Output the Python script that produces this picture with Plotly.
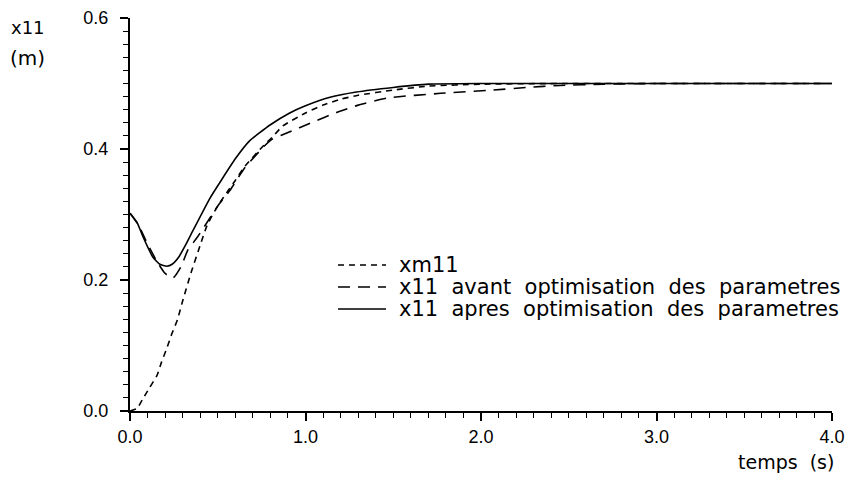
import plotly.graph_objects as go

# time samples (s) and responses (m)
t_xm11 = [0.0, 0.04, 0.07, 0.11, 0.155, 0.18, 0.21, 0.24, 0.27, 0.3, 0.35, 0.4, 0.44, 0.5,
          0.55, 0.6, 0.65, 0.76, 0.81, 0.87, 1.0, 1.1, 1.2, 1.3, 1.5, 1.7, 2.0, 2.5, 3.0, 4.0]
y_xm11 = [0.0, 0.004, 0.017, 0.035, 0.055, 0.075, 0.096, 0.119, 0.139, 0.168, 0.213, 0.253, 0.284, 0.313,
          0.333, 0.352, 0.372, 0.405, 0.418, 0.435, 0.455, 0.467, 0.476, 0.482, 0.490, 0.496, 0.499, 0.5, 0.5, 0.5]

t_avant = [0.0, 0.05, 0.1, 0.15, 0.2, 0.245, 0.29, 0.33, 0.38, 0.42, 0.5, 0.57, 0.65, 0.76, 0.81,
           0.89, 1.04, 1.18, 1.3, 1.47, 1.77, 2.07, 2.26, 2.45, 2.7, 3.0, 4.0]
y_avant = [0.302, 0.283, 0.255, 0.230, 0.210, 0.203, 0.220, 0.246, 0.264, 0.280, 0.313, 0.337, 0.370, 0.403, 0.415,
           0.424, 0.441, 0.456, 0.467, 0.478, 0.485, 0.490, 0.494, 0.497, 0.499, 0.5, 0.5]

t_apres = [0.0, 0.04, 0.074, 0.13, 0.17, 0.21, 0.24, 0.28, 0.32, 0.36, 0.456, 0.51, 0.6, 0.68, 0.8,
           0.91, 1.0, 1.14, 1.29, 1.5, 1.7, 2.0, 3.0, 4.0]
y_apres = [0.302, 0.288, 0.266, 0.235, 0.224, 0.221, 0.224, 0.236, 0.255, 0.276, 0.325, 0.348, 0.385, 0.412, 0.437,
           0.455, 0.466, 0.479, 0.487, 0.494, 0.499, 0.5, 0.5, 0.5]

names = ["xm11", "x11  avant  optimisation  des  parametres", "x11  apres  optimisation  des  parametres"]

x_ticks = [0.0, 1.0, 2.0, 3.0, 4.0]
x_tick_labels = ["0.0", "1.0", "2.0", "3.0", "4.0"]
y_ticks = [0.0, 0.2, 0.4, 0.6]
y_tick_labels = ["0.0", "0.2", "0.4", "0.6"]

FONT = "Liberation Sans, Arial, sans-serif"
LFONT = "DejaVu Sans, sans-serif"

W, H = 860, 479
OFF = 8  # page body margin
SL, ST, SR, SB = 130, 18, 832, 411  # plot area in screenshot pixels
pw, ph = SR - SL, SB - ST


def px(x):
    return (x - SL) / pw


def py(y):
    return (SB - y) / ph


dashes = ["6px,5px", "12px,8px", "solid"]

fig = go.Figure()
for tx, ty, nm, ds in zip([t_xm11, t_avant, t_apres], [y_xm11, y_avant, y_apres], names, dashes):
    fig.add_trace(go.Scatter(x=tx, y=ty, mode="lines", name=nm, showlegend=False,
                             line=dict(color="black", width=1.6, dash=ds, shape="spline", smoothing=0.5)))

fig.update_layout(
    width=W, height=H,
    margin=dict(l=SL - OFF, r=W - SR + OFF, t=ST - OFF, b=H - SB + OFF),
    paper_bgcolor="white", plot_bgcolor="white",
    font=dict(family=FONT, size=18, color="black"),
    showlegend=False,
    xaxis=dict(range=[0, 4], showgrid=False, zeroline=False, automargin=False,
               showline=True, linecolor="black", linewidth=2,
               tickmode="array", tickvals=x_ticks, ticktext=x_tick_labels,
               ticks="outside", ticklen=8, tickwidth=1.5, tickcolor="black",
               tickfont=dict(family=FONT, size=18),
               minor=dict(dtick=0.1, ticks="outside", ticklen=5, tickwidth=1.2, tickcolor="black", showgrid=False)),
    yaxis=dict(range=[0, 0.6], showgrid=False, zeroline=False, automargin=False,
               showline=True, linecolor="black", linewidth=2,
               tickmode="array", tickvals=y_ticks, ticktext=y_tick_labels,
               ticks="outside", ticklen=8, tickwidth=1.5, tickcolor="black",
               ticklabelstandoff=8,
               tickfont=dict(family=FONT, size=18),
               minor=dict(dtick=0.02, ticks="outside", ticklen=5, tickwidth=1.2, tickcolor="black", showgrid=False)),
)

# legend drawn as line samples + labels (positions in screenshot pixels)
rows = [265, 287, 309]
for nm, ds, ry in zip(names, dashes, rows):
    fig.add_shape(type="line", xref="paper", yref="paper",
                  x0=px(338), x1=px(386), y0=py(ry), y1=py(ry),
                  line=dict(color="black", width=1.6, dash=ds))
    fig.add_annotation(text=nm, x=px(397), y=py(ry), xref="paper", yref="paper",
                       showarrow=False, xanchor="left", yanchor="middle",
                       font=dict(family=LFONT, size=21, color="black"))

fig.add_annotation(text="x11", x=px(28), y=py(27), xref="paper", yref="paper",
                   showarrow=False, xanchor="center", yanchor="middle",
                   font=dict(family=LFONT, size=18))
fig.add_annotation(text="(m)", x=px(28), y=py(58), xref="paper", yref="paper",
                   showarrow=False, xanchor="center", yanchor="middle",
                   font=dict(family=LFONT, size=20))
fig.add_annotation(text="temps  (s)", x=px(836), y=py(462), xref="paper", yref="paper",
                   showarrow=False, xanchor="right", yanchor="middle",
                   font=dict(family=LFONT, size=19))

fig.write_html("out.html")
